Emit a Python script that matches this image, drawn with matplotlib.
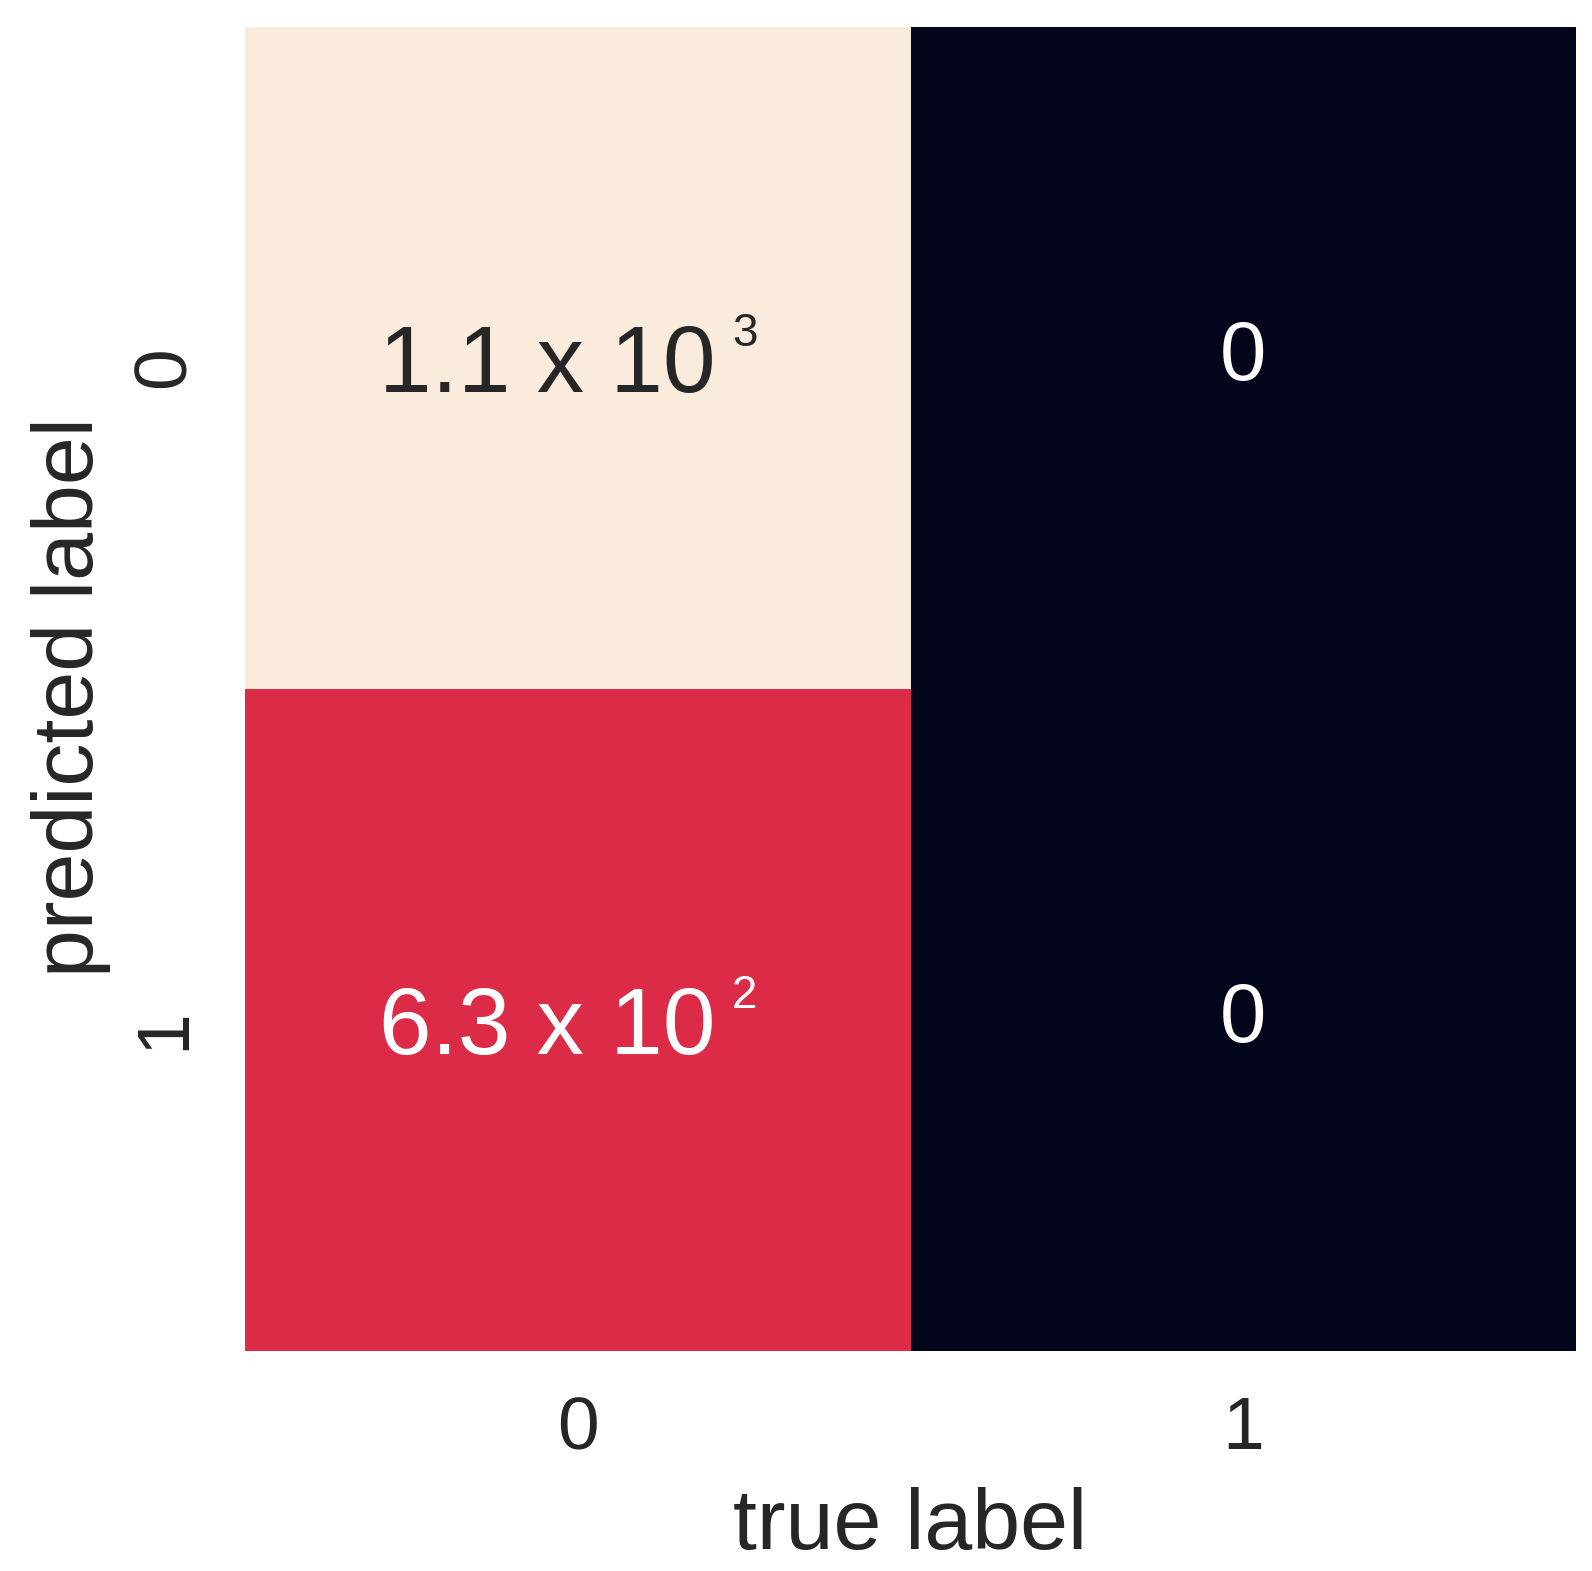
import numpy as np
import matplotlib
matplotlib.use('Agg')
from matplotlib import pyplot as plt
from matplotlib import transforms
import seaborn as sns

# confusion matrix, rows = predicted, cols = true
mat = np.array([[1140, 0],
                [628, 0]])
tick_labels = ['0', '1']

# "m x 10" text plus a separate exponent, like the original
mantissa = []
exponent = []
for row in mat:
    mrow, erow = [], []
    for v in row:
        if v > 0:
            e = int(np.floor(np.log10(v)))
            mrow.append('%.1f x 10' % (v / 10**e))
            erow.append(str(e))
        else:
            mrow.append('0')
            erow.append('')
    mantissa.append(mrow)
    exponent.append(erow)

sns.set_style('white')
plt.rcParams['font.family'] = ['Liberation Sans', 'DejaVu Sans']

fig = plt.figure(figsize=(15.92, 15.71), dpi=100)
ax = fig.add_axes([245/1592, 1 - 1351/1571, 1331/1592, 1324/1571])

sns.heatmap(mat, annot=np.array(mantissa), fmt='', cmap='rocket', cbar=False,
            ax=ax, annot_kws={'fontsize': 60},
            xticklabels=tick_labels, yticklabels=tick_labels)

for t in list(ax.texts):
    x, y = t.get_position()
    i, j = int(y), int(x)
    if exponent[i][j]:
        t.set_fontsize(68)
        t.set_position((x - 0.046, y + 0.015))
        ax.annotate(exponent[i][j], xy=(1, 1), xycoords=t, xytext=(12, 8),
                    textcoords='offset points', fontsize=33, color=t.get_color(),
                    ha='left', va='top')

ax.tick_params(length=0)
ax.tick_params(axis='x', pad=32)
ax.tick_params(axis='y', pad=33)
down = transforms.ScaledTranslation(0, -0.09, fig.dpi_scale_trans)
for lab in ax.get_xticklabels():
    lab.set_fontsize(54)
for lab in ax.get_yticklabels():
    lab.set_fontsize(54)
    lab.set_rotation(90)
    lab.set_va('center')
    lab.set_transform(lab.get_transform() + down)

ax.set_xlabel('true label', fontsize=62)
ax.set_ylabel('predicted label', fontsize=62)
ax.xaxis.set_label_coords(0.5, -0.103)
ax.yaxis.set_label_coords(-0.101, 0.494)

fig.savefig('out.png', dpi=100)
